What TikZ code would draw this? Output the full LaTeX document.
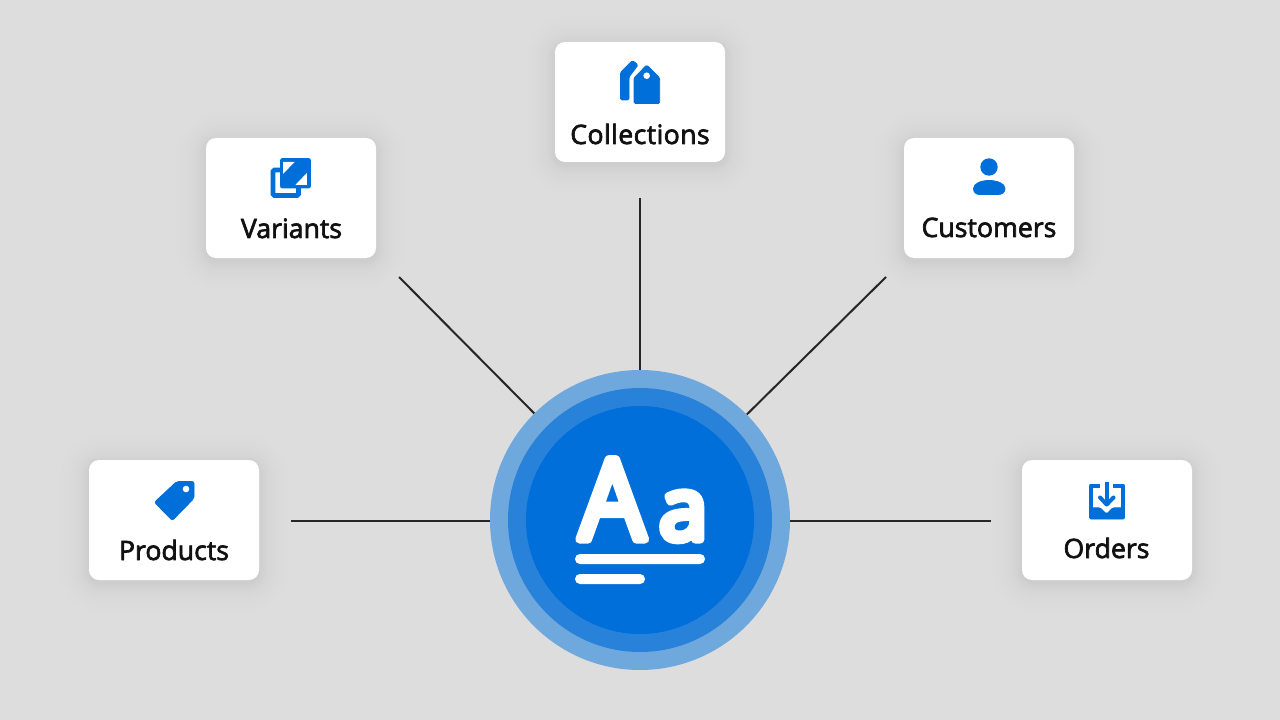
\documentclass[tikz,border=0pt]{standalone}
\usepackage{fontspec}
\setmainfont{Open Sans}
\newfontfamily\hubfont{Open Sans}[FakeStretch=0.93]
\usetikzlibrary{positioning}
\definecolor{pagegray}{HTML}{DDDDDD}
\definecolor{hubring}{HTML}{6FA8DC}
\definecolor{hubmid}{HTML}{2882DA}
\definecolor{hubblue}{HTML}{006FD9}
\definecolor{inkdark}{HTML}{111111}
\newcommand{\softtext}[2]{\special{pdf:code 2 Tr #1 w 1 j #2 RG}}
\newcommand{\plaintext}{\special{pdf:code 0 Tr}}
\tikzset{
  card/.style={rectangle,rounded corners=7.5pt,fill=white,minimum width=127.5pt,minimum height=90pt,inner sep=0pt},
  cardlabel/.style={anchor=base,text=inkdark,font=\fontsize{20pt}{23pt}\selectfont,inner sep=0pt,
    execute at begin node={\softtext{0.5}{0.067 0.067 0.067}},execute at end node={\plaintext}},
  hubdisc/.style={circle,inner sep=0pt,minimum size=#1},
  link/.style={draw=black!85,line width=1.5pt},
  iconfill/.style={fill=hubblue,draw=hubblue,line width=0.6pt,line join=round},
  iconline/.style={draw=hubblue,line width=3pt,line join=round}
}
\begin{document}
\begin{tikzpicture}[x=0.75pt,y=-0.75pt]
   \fill[pagegray] (0,0) rectangle (1280,720);
   \foreach \cx/\cy in {291/198,640/102,989/198,174/520,1107/520}
     \foreach \s in {1,2,3,4,5,6,7,8,10,12,14,17,20,24,28}
       \fill[black,opacity=0.005,rounded corners=9pt+0.75*\s pt]
         (\cx-85-\s,\cy-60-\s+3) rectangle (\cx+85+\s,\cy+60+\s+3);

   \node[card] (variants) at (291,198) {};
   \node[card] (collections) at (640,102) {};
   \node[card] (customers) at (989,198) {};
   \node[card] (products) at (174,520) {};
   \node[card] (orders) at (1107,520) {};

   \node[cardlabel] (variantsText) at (291.5,238) {Variants};
   \node[cardlabel] (collectionsText) at (640,144) {\addfontfeature{LetterSpace=1.5}Collections};
   \node[cardlabel] (customersText) at (989,237) {Customers};
   \node[cardlabel] (productsText) at (174,560) {Products};
   \node[cardlabel] (ordersText) at (1106.5,558) {Orders};

   \node[hubdisc=225pt,fill=hubring] (hub) at (640,520) {};
   \node[hubdisc=198pt,fill=hubmid] (hubMiddle) at (640,520) {};
   \node[hubdisc=171pt,fill=hubblue] (hubInner) at (640,520) {};

   \coordinate (productsEnd) at (291,521);
   \coordinate (variantsEnd) at (399,277);
   \coordinate (collectionsEnd) at (640,198);
   \coordinate (customersEnd) at (886,277);
   \coordinate (ordersEnd) at (991,521);
   \draw[link] (productsEnd) -- (productsEnd -| hub.west);
   \draw[link] (variantsEnd) -- (hub);
   \draw[link] (collectionsEnd) -- (hub);
   \draw[link] (customersEnd) -- (hub);
   \draw[link] (ordersEnd) -- (ordersEnd -| hub.east);

   \node[anchor=base west,text=white,inner sep=0pt,font=\hubfont\fontsize{84pt}{84pt}\selectfont] (hubLetters) at (579,539.5) {\softtext{6}{1 1 1}A\kern10.5pt{\normalfont\fontsize{65pt}{65pt}\selectfont a}\plaintext};
   \fill[white,rounded corners=3.7pt] (575,554) rectangle (705,564);
   \fill[white,rounded corners=3.7pt] (575,574) rectangle (645,584);

   \draw[iconfill,rounded corners=1pt] (646.7,65) -- (659.7,78) -- (659.7,103.5) -- (634,103.5) -- (634,78) -- cycle;
   \fill[white] (646.7,75.7) circle[radius=3.3];
   \draw[iconfill,rounded corners=1pt] (632.5,60.5) -- (638,65) -- (629,77) -- (629,100) -- (620.5,100) -- (620.5,72.5) -- cycle;

   \draw[draw=hubblue,fill=white,line width=3.4pt,rounded corners=1pt] (273,170) rectangle (298.5,195.5);
   \draw[iconfill,rounded corners=1.5pt] (280.5,158.5) rectangle (310.5,188);
   \fill[white] (283,162) -- (294.5,162) -- (283,174) -- cycle;
   \fill[white] (306.8,173) -- (306.8,185) -- (295.3,185) -- cycle;

   \fill[hubblue] (989,167) circle[radius=8.7];
   \draw[iconfill] (973.5,188.5) .. controls (973.5,183.5) and (981,180.5) .. (989,180.5) .. controls (997,180.5) and (1005,183.5) .. (1005,188.5) .. controls (1005,192.5) and (1002,194.5) .. (998,194.5) -- (980,194.5) .. controls (976,194.5) and (973.5,192.5) .. (973.5,188.5) -- cycle;

   \draw[iconfill,rounded corners=1.5pt] (194,481.5) -- (176.7,481.5) -- (154.5,502.3) -- (172.3,520.5) -- (194,498.3) -- cycle;
   \fill[white] (186,489) circle[radius=3.3];

   \draw[iconline] (1100,485.5) -- (1091,485.5) -- (1091,510);
   \draw[iconline] (1113,485.5) -- (1123,485.5) -- (1123,510);
   \draw[iconfill,rounded corners=1pt] (1089.5,507.8) -- (1100,507.8) -- (1106.5,514) -- (1113,507.8) -- (1124.5,507.8) -- (1124.5,519) -- (1089.5,519) -- cycle;
   \draw[iconline] (1106.7,482) -- (1106.7,503);
   \draw[iconline,line cap=round] (1100,497.5) -- (1106.7,504.5) -- (1113.5,497.5);
\end{tikzpicture}
\end{document}
